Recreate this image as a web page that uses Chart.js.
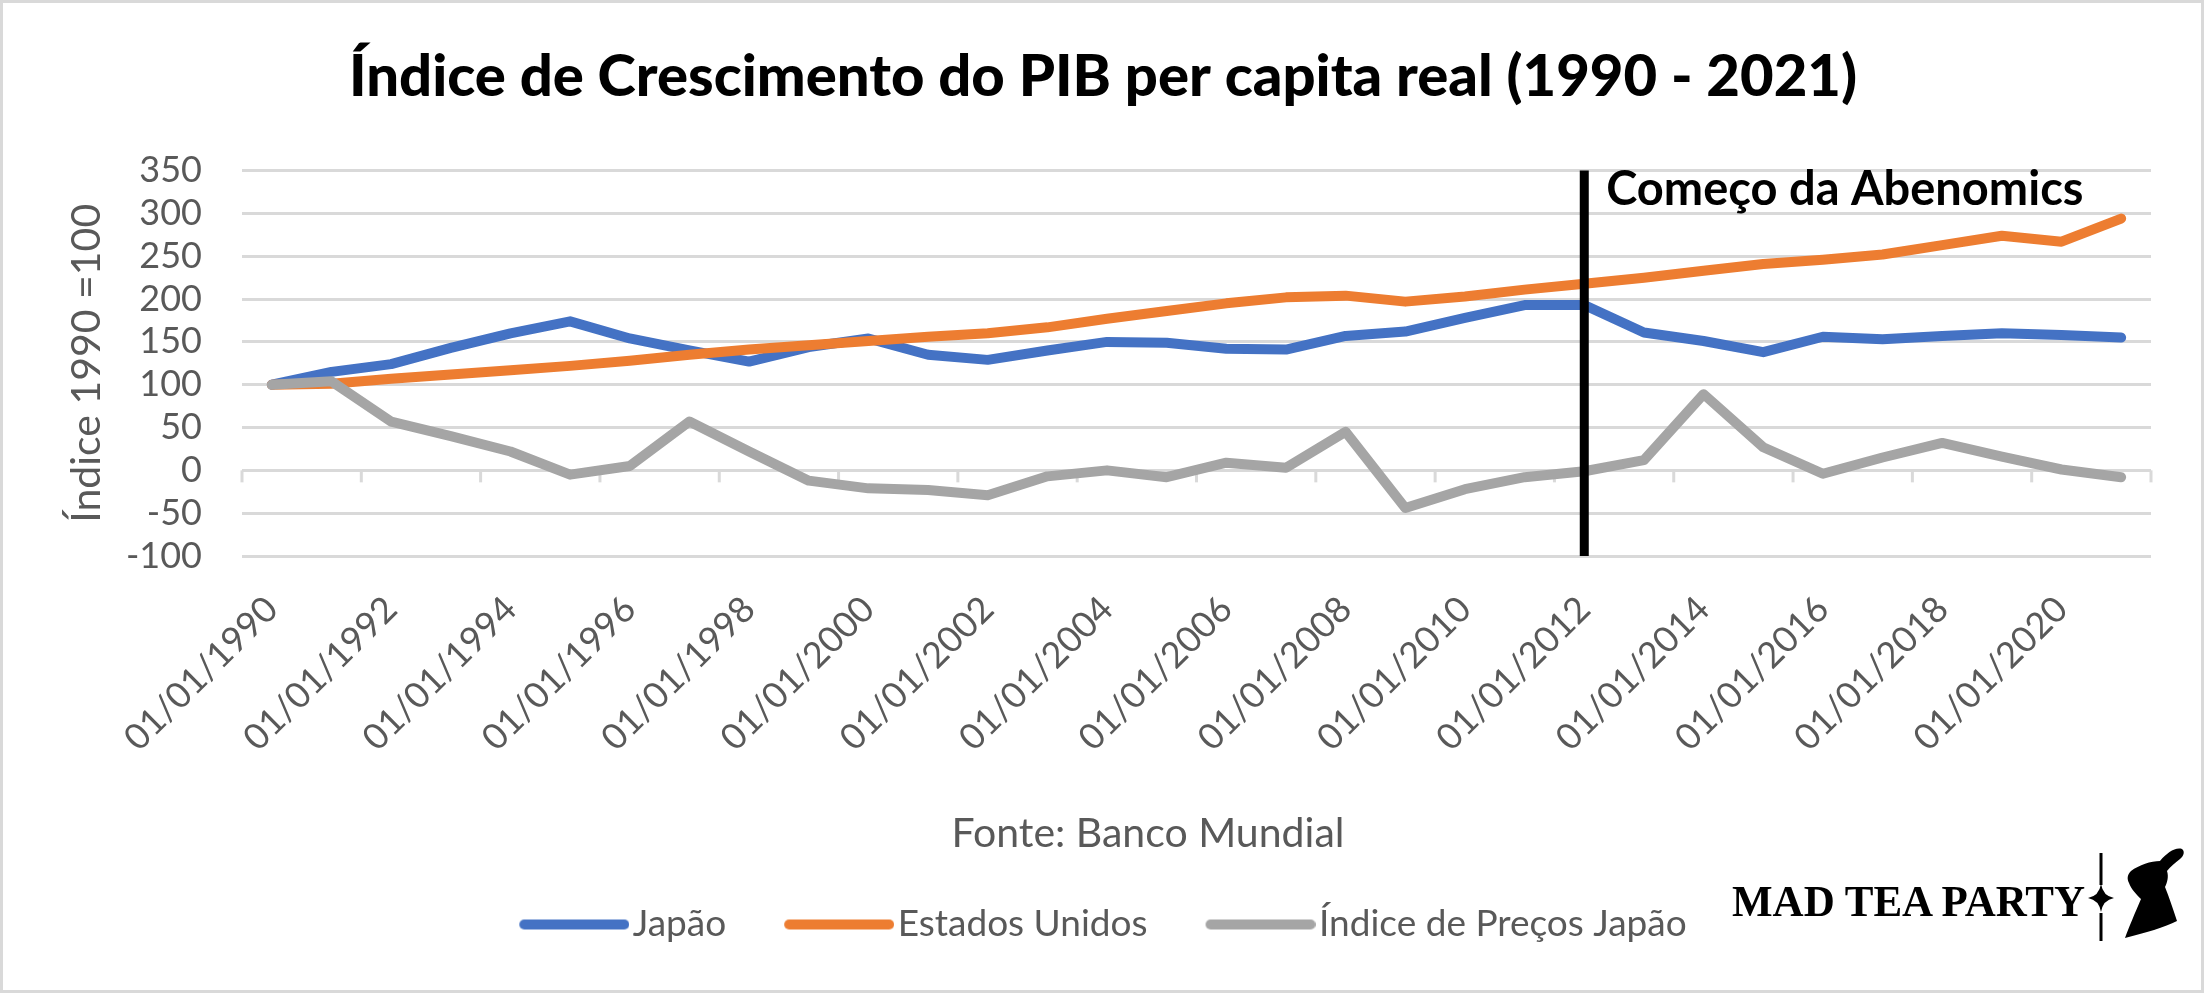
<!DOCTYPE html>
<html>
<head>
<meta charset="utf-8">
<script src="https://cdn.jsdelivr.net/npm/chart.js@4.4.1/dist/chart.umd.min.js"></script>
<style>
  html, body { margin: 0; padding: 0; background: #fff; }
  #wrap { position: relative; width: 2204px; height: 993px; overflow: hidden; }
  #chart { position: absolute; left: 0; top: 0; }
  #frame { position: absolute; left: 0; top: 0; width: 2204px; height: 993px; box-sizing: border-box; border: 3px solid #d9d9d9; pointer-events: none; }
  #logo-text { position: absolute; left: 1732px; top: 879px; font-family: 'Liberation Serif', serif; font-weight: bold; font-size: 45px; line-height: 45px; color: #000; white-space: nowrap; transform: scaleX(0.956); transform-origin: left top; }
  #logo-mark { position: absolute; left: 2085px; top: 845px; }
</style>
</head>
<body>
<div id="wrap">
  <canvas id="chart" width="2204" height="993"></canvas>
  <div id="logo-text">MAD TEA PARTY</div>
  <svg id="logo-mark" width="105" height="100" viewBox="0 0 105 100">
    <line x1="16" y1="8" x2="16" y2="40" stroke="#000" stroke-width="3"/>
    <line x1="16" y1="68" x2="16" y2="96" stroke="#000" stroke-width="3"/>
    <path d="M16,39 Q18,51 29,53 Q18,55 16,67 Q14,55 3,53 Q14,51 16,39 Z" fill="#000"/>
    <g transform="translate(40,2)">
      <path d="M35,14 C42,6 50,0 57,2 C60,4 59,9 55,12 C50,16 45,20 42,24 C44,30 42,36 40,40 C44,50 48,62 52,74 C40,80 20,86 0,91 C4,80 10,66 16,52 C12,48 6,42 4,36 C2,32 2,28 6,24 C14,18 26,14 35,14 Z" fill="#000"/>
    </g>
  </svg>
  <div id="frame"></div>
</div>
<script>
// data
let years = [1990, 1991, 1992, 1993, 1994, 1995, 1996, 1997, 1998, 1999,
             2000, 2001, 2002, 2003, 2004, 2005, 2006, 2007, 2008, 2009,
             2010, 2011, 2012, 2013, 2014, 2015, 2016, 2017, 2018, 2019,
             2020, 2021]
let dateLabels = years.map(y => '01/01/' + y)

let japan = [100, 115, 124, 143, 160, 174, 154, 140, 127, 144,
             154, 135, 129, 140, 150, 149, 142, 141, 157, 162,
             178, 193, 193, 161, 151, 138, 156, 153, 157, 160,
             158, 155]
let unitedStates = [100, 101, 107, 112, 117, 122, 128, 135, 141, 146,
                    151, 156, 160, 167, 177, 186, 195, 202, 204, 197,
                    203, 211, 218, 225, 233, 241, 246, 252, 263, 274,
                    267, 294]
let japanPrices = [100, 104, 57, 40, 22, -5, 5, 57, 22, -12,
                   -21, -23, -29, -7, 0, -8, 9, 3, 45, -44,
                   -22, -8, -1, 12, 89, 27, -4, 15, 32, 16,
                   1, -8]

let yTicks = [-100, -50, 0, 50, 100, 150, 200, 250, 300, 350]
let abenomicsYear = 2012

let gray = '#595959'
let gridColor = '#d9d9d9'

// legend swatch: a line that runs up to the label text
function swatch(color) {
    let c = document.createElement('canvas')
    c.width = 125
    c.height = 12
    let ctx = c.getContext('2d')
    ctx.strokeStyle = color
    ctx.lineWidth = 10
    ctx.lineCap = 'round'
    ctx.beginPath()
    ctx.moveTo(20, 6)
    ctx.lineTo(120, 6)
    ctx.stroke()
    return c
}

let extras = {
    id: 'extras',
    beforeDatasetsDraw(chart) {
        let ctx = chart.ctx
        let x = chart.scales.x
        let y0 = chart.scales.y.getPixelForValue(0)
        ctx.save()
        ctx.strokeStyle = gridColor
        ctx.lineWidth = 3
        for (let k = 0; k <= years.length; k += 2) {
            let px = x.getPixelForValue(k - 0.5)
            ctx.beginPath()
            ctx.moveTo(px, y0)
            ctx.lineTo(px, y0 + 12)
            ctx.stroke()
        }
        ctx.restore()
    },
    afterDatasetsDraw(chart) {
        let ctx = chart.ctx
        let area = chart.chartArea
        let px = chart.scales.x.getPixelForValue(years.indexOf(abenomicsYear))
        ctx.save()
        ctx.strokeStyle = '#000'
        ctx.lineWidth = 9
        ctx.beginPath()
        ctx.moveTo(px, area.top)
        ctx.lineTo(px, area.bottom)
        ctx.stroke()

        ctx.fillStyle = '#000'
        ctx.font = 'bold 47px Lato'
        ctx.textAlign = 'left'
        ctx.textBaseline = 'alphabetic'
        ctx.fillText('Começo da Abenomics', px + 22, area.top + 34)

        ctx.fillStyle = gray
        ctx.font = '41px Lato'
        ctx.textAlign = 'center'
        ctx.textBaseline = 'middle'
        ctx.fillText('Fonte: Banco Mundial', 1148, 834)
        ctx.restore()
    }
}

function lineSet(label, data, color, order) {
    return {
        label: label,
        data: data,
        borderColor: color,
        backgroundColor: color,
        borderWidth: 10,
        borderCapStyle: 'round',
        borderJoinStyle: 'round',
        pointRadius: 0,
        pointHoverRadius: 0,
        tension: 0,
        order: order
    }
}

new Chart(document.getElementById('chart'), {
    type: 'line',
    data: {
        labels: dateLabels,
        datasets: [
            lineSet('Japão', japan, '#4472c4', 3),
            lineSet('Estados Unidos', unitedStates, '#ed7d31', 2),
            lineSet('Índice de Preços Japão', japanPrices, '#a5a5a5', 1)
        ]
    },
    options: {
        responsive: false,
        devicePixelRatio: 1,
        animation: false,
        layout: { padding: { left: 55, right: 53, top: 0, bottom: 40 } },
        plugins: {
            title: {
                display: true,
                text: 'Índice de Crescimento do PIB per capita real (1990 - 2021)',
                color: '#000',
                font: { family: 'Lato', size: 58, weight: 900 },
                padding: { top: 42, bottom: 59 }
            },
            legend: {
                position: 'bottom',
                labels: {
                    color: gray,
                    font: { family: 'Lato', size: 37 },
                    usePointStyle: true,
                    pointStyleWidth: 95,
                    padding: 58,
                    generateLabels(chart) {
                        let items = Chart.defaults.plugins.legend.labels.generateLabels(chart)
                        items.forEach(it => { it.pointStyle = swatch(it.strokeStyle) })
                        return items.sort((a, b) => a.datasetIndex - b.datasetIndex)
                    }
                }
            },
            tooltip: { enabled: false }
        },
        scales: {
            x: {
                offset: true,
                grid: { display: false, drawTicks: false },
                border: { display: false },
                ticks: {
                    color: gray,
                    font: { family: 'Lato', size: 36 },
                    autoSkip: false,
                    minRotation: 45,
                    maxRotation: 45,
                    padding: 32,
                    callback: (value, index) => index % 2 === 0 ? dateLabels[index] : ''
                },
                afterFit(scale) { scale.height = 292 }
            },
            y: {
                min: -100,
                max: 350,
                afterBuildTicks(scale) { scale.ticks = yTicks.map(v => ({ value: v })) },
                grid: { color: gridColor, lineWidth: 3, drawTicks: false },
                border: { display: false },
                ticks: {
                    color: gray,
                    font: { family: 'Lato', size: 36 },
                    autoSkip: false,
                    padding: 40
                },
                title: {
                    display: true,
                    text: 'Índice 1990 =100',
                    color: gray,
                    font: { family: 'Lato', size: 41 },
                    padding: { top: 7, bottom: 0 }
                },
                afterFit(scale) { scale.width = 187 }
            }
        }
    },
    plugins: [extras]
})
</script>
</body>
</html>
